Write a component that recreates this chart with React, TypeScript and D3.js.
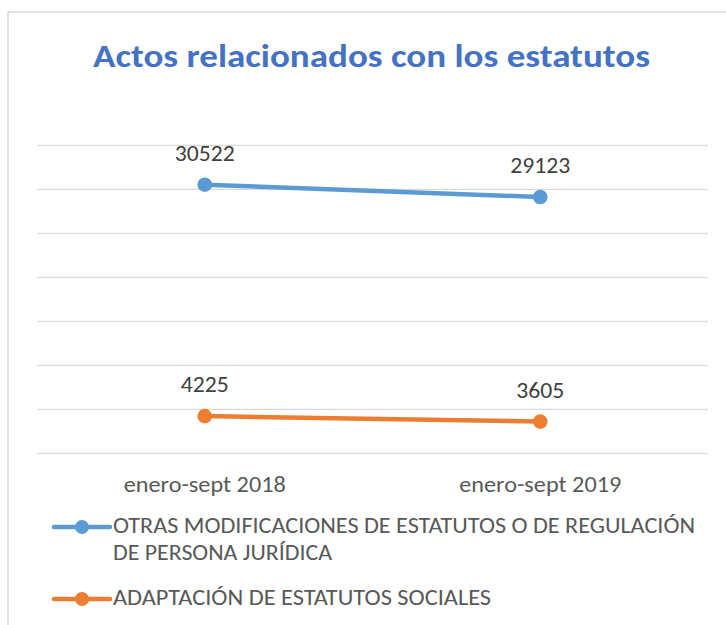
import React from "react";
import * as d3 from "d3";

const categories = ["enero-sept 2018", "enero-sept 2019"];
const otrasValues = [30522, 29123];
const adaptacionValues = [4225, 3605];
const seriesNames = [
  ["OTRAS MODIFICACIONES DE ESTATUTOS O DE REGULACIÓN", "DE PERSONA JURÍDICA"],
  ["ADAPTACIÓN DE ESTATUTOS SOCIALES"],
];
const yTicks = [0, 5000, 10000, 15000, 20000, 25000, 30000, 35000];
const title = "Actos relacionados con los estatutos";

const W = 726;
const H = 625;
const FONT = "Carlito, Calibri, Lato, 'Open Sans', sans-serif";

export default function App() {
  const x = d3.scaleBand<string>().domain(categories).range([37, 708]).padding(0);
  const y = d3.scaleLinear().domain([0, 35000]).range([453.3, 145.3]);
  const cx = (c: string) => (x(c) as number) + x.bandwidth() / 2;

  const series = [
    { values: otrasValues, color: "#5B9BD5" },
    { values: adaptacionValues, color: "#ED7D31" },
  ];

  const line = d3
    .line<number>()
    .x((_, i) => cx(categories[i]))
    .y((v) => y(v));

  const legendWidths = [[582, 219], [378]];
  const legendY = [533, 605];

  return (
    <svg
      width={W}
      height={H}
      style={{ position: "absolute", left: 0, top: 0, background: "#fff" }}
      fontFamily={FONT}
    >
      <rect x={0} y={0} width={W} height={H} fill="#fff" />
      <rect x={8} y={12} width={740} height={640} fill="#fff" stroke="#d9d9d9" strokeWidth={1.5} />
      <text
        x={93}
        y={67}
        fill="#4472C4"
        fontWeight="bold"
        fontSize={33}
        textLength={557}
        lengthAdjust="spacingAndGlyphs"
      >
        {title}
      </text>
      {yTicks.map((t) => (
        <line key={t} x1={37} x2={708} y1={y(t)} y2={y(t)} stroke="#d9d9d9" strokeWidth={1.3} />
      ))}
      {series.map((s, si) => (
        <g key={si}>
          <path d={line(s.values) || ""} fill="none" stroke={s.color} strokeWidth={4.5} strokeLinecap="round" />
          {s.values.map((v, i) => (
            <g key={i}>
              <circle cx={cx(categories[i])} cy={y(v)} r={7.3} fill={s.color} />
              <text
                x={cx(categories[i])}
                y={y(v) - 24}
                textAnchor="middle"
                fontSize={23}
                fill="#404040"
                textLength={String(v).length * 12}
                lengthAdjust="spacingAndGlyphs"
              >
                {v}
              </text>
            </g>
          ))}
        </g>
      ))}
      {categories.map((c) => (
        <text
          key={c}
          x={cx(c)}
          y={492}
          textAnchor="middle"
          fontSize={22}
          fill="#595959"
          textLength={162}
          lengthAdjust="spacingAndGlyphs"
        >
          {c}
        </text>
      ))}
      {series.map((s, si) => (
        <g key={si}>
          <line x1={54} x2={110} y1={legendY[si] - 6} y2={legendY[si] - 6} stroke={s.color} strokeWidth={4.5} strokeLinecap="round" />
          <circle cx={82} cy={legendY[si] - 6} r={7} fill={s.color} />
          {seriesNames[si].map((ln, li) => (
            <text
              key={li}
              x={113}
              y={legendY[si] + li * 27}
              fontSize={22}
              fill="#595959"
              textLength={legendWidths[si][li]}
              lengthAdjust="spacingAndGlyphs"
            >
              {ln}
            </text>
          ))}
        </g>
      ))}
    </svg>
  );
}
